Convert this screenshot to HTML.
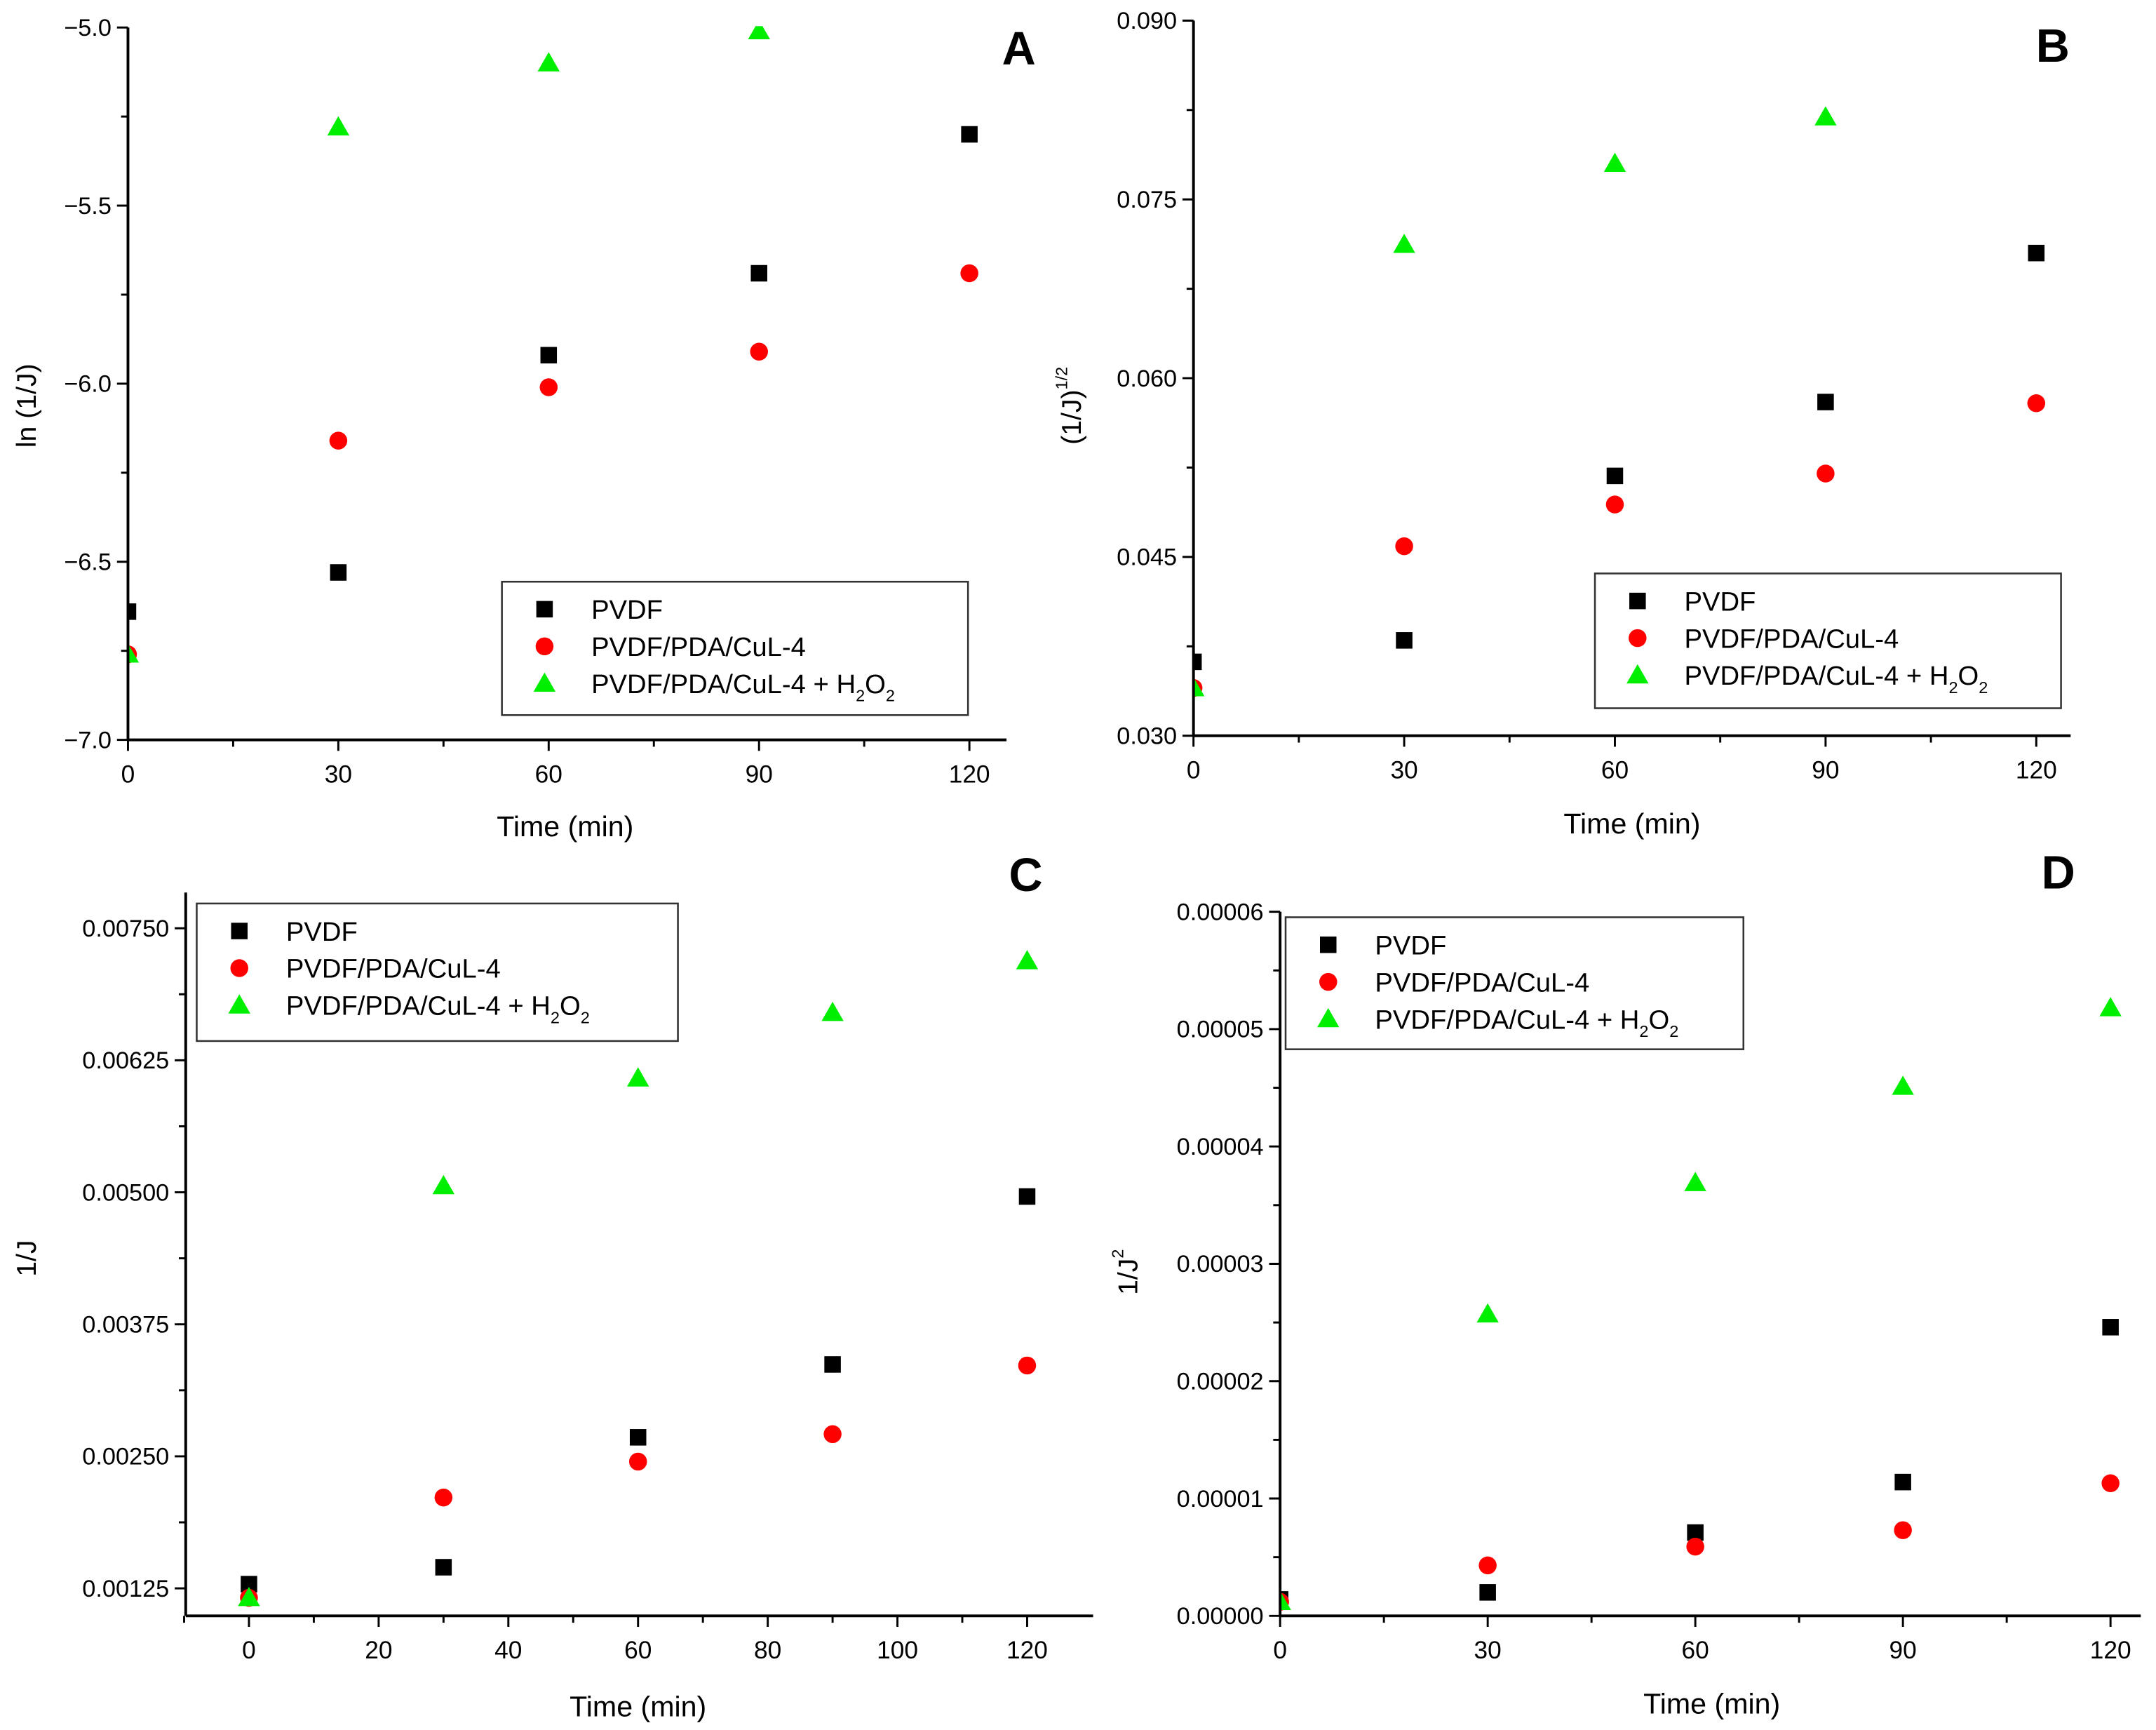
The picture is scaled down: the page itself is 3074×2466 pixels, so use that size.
<!DOCTYPE html>
<html><head><meta charset="utf-8">
<style>
html,body{margin:0;padding:0;background:#fff;}
svg{display:block;font-family:"Liberation Sans",Arial,sans-serif;}
</style></head>
<body>
<svg id="fig" width="3074" height="2466" viewBox="0 0 1568 1258" xmlns="http://www.w3.org/2000/svg"></svg>
<script>
const times = [0, 30, 60, 90, 120];
const seriesNames = ["PVDF", "PVDF/PDA/CuL-4", "PVDF/PDA/CuL-4 + H2O2"];
// Panel A: ln(1/J)
const aPVDF = [-6.64, -6.53, -5.92, -5.69, -5.30];
const aCuL = [-6.76, -6.16, -6.01, -5.91, -5.69];
const aH2O2 = [-6.76, -5.28, -5.10, -5.01, null];
const aTicksY = ["-5.0", "-5.5", "-6.0", "-6.5", "-7.0"];
// Panel B: (1/J)^1/2
const bPVDF = [0.0362, 0.0380, 0.0518, 0.0580, 0.0705];
const bCuL = [0.0340, 0.0459, 0.0494, 0.0520, 0.0579];
const bH2O2 = [0.0340, 0.0712, 0.0780, 0.0819, null];
const bTicksY = ["0.090", "0.075", "0.060", "0.045", "0.030"];
// Panel C: 1/J
const cPVDF = [0.00129, 0.00145, 0.00268, 0.00337, 0.00496];
const cCuL = [0.00116, 0.00211, 0.00245, 0.00271, 0.00336];
const cH2O2 = [0.00116, 0.00506, 0.00608, 0.00670, 0.00719];
const cTicksY = ["0.00750", "0.00625", "0.00500", "0.00375", "0.00250", "0.00125"];
// Panel D: 1/J^2
const dPVDF = [0.0000014, 0.0000020, 0.0000071, 0.0000114, 0.0000246];
const dCuL = [0.0000012, 0.0000043, 0.0000059, 0.0000073, 0.0000113];
const dH2O2 = [0.0000012, 0.0000257, 0.0000369, 0.0000451, 0.0000518];
const dTicksY = ["0.00006", "0.00005", "0.00004", "0.00003", "0.00002", "0.00001", "0.00000"];
const abTicksX = ["0", "30", "60", "90", "120"];
const cTicksX = ["0", "20", "40", "60", "80", "100", "120"];

const NS = "http://www.w3.org/2000/svg";
const svg = document.getElementById("fig");
function mk(tag, attrs, parent){
  const e = document.createElementNS(NS, tag);
  for (const k in attrs) e.setAttribute(k, attrs[k]);
  (parent||svg).appendChild(e);
  return e;
}
function txt(parent, x, y, s, size, anchor, extra){
  const t = mk("text", Object.assign({x:x, y:y, "font-size":size, "text-anchor":anchor||"middle", fill:"#000"}, extra||{}), parent);
  t.textContent = s;
  return t;
}
function marker(g, kind, x, y){
  let e;
  if (kind===0) e = mk("rect",{x:x-6,y:y-6,width:12,height:12,fill:"#000"},g);
  else if (kind===1) e = mk("circle",{cx:x,cy:y,r:6.5,fill:"#ff0000"},g);
  else e = mk("polygon",{points:`${x},${y-8} ${x-8},${y+6} ${x+8},${y+6}`,fill:"#00ee00"},g);
  return e;
}
const mNames = ["marker-pvdf","marker-cul4","marker-cul4-h2o2"];

function panel(p){
  const g = mk("g",{});
  
  
  const X = v => p.x0 + (v - p.xmin)/(p.xmax - p.xmin)*(p.x1 - p.x0);
  const Y = v => p.y0 - (v - p.ymin)/(p.ymax - p.ymin)*(p.y0 - p.y1);
  // data (drawn first, clipped to plot area)
  const clipId = "clip"+p.id;
  const cp = mk("clipPath",{id:clipId},g);
  mk("rect",{x:p.axL,y:p.axT-1,width:p.axR-p.axL+20,height:p.axB-p.axT+1},cp);
  const dg = mk("g",{"clip-path":`url(#${clipId})`},g);
  [0,1,2].forEach(si=>{
    const vals = p.series[si];
    vals.forEach((v,i)=>{
      if (v===null) return;
      const m = marker(dg, si, X(times[i]), Y(v));
      
      
    });
  });
  // axes
  const ax = mk("line",{x1:p.axL,y1:p.axB,x2:p.axR,y2:p.axB,stroke:"#000","stroke-width":2},g);
  
  
  const ay = mk("line",{x1:p.axL,y1:p.axB,x2:p.axL,y2:p.axT,stroke:"#000","stroke-width":2},g);
  
  
  // x ticks
  const xt = p.xticks.map(Number);
  const step = xt[1]-xt[0];
  for (let v = p.xMinorStart; v <= p.xmaxAxis; v += step/2){
    const major = xt.indexOf(v) >= 0;
    mk("line",{x1:X(v),y1:p.axB,x2:X(v),y2:p.axB+(major?8:5),stroke:"#000","stroke-width":1.5},g);
  }
  p.xticks.forEach(s=>{
    const t = txt(g, X(Number(s)), p.axB+31, s, 18);
    
    
  });
  // y ticks
  const yt = p.yticks.map(Number);
  const ystep = Math.abs(yt[0]-yt[1]);
  const ylo = Math.min(...yt), yhi = Math.max(...yt);
  for (let k = -1; k <= yt.length*2; k++){
    const v = ylo + k*ystep/2;
    const yy = Y(v);
    if (yy > p.axB+0.5 || yy < p.axT-0.5) continue;
    const major = k%2===0 && v <= yhi+1e-12;
    mk("line",{x1:p.axL,y1:yy,x2:p.axL-(major?8:5),y2:yy,stroke:"#000","stroke-width":1.5},g);
  }
  p.yticks.forEach(s=>{
    const t = txt(g, p.axL-12, Y(Number(s))+6, s.replace("-","\u2212"), 17.5, "end");
    
    
  });
  // titles
  const xtl = txt(g, p.xtX, p.xtY, "Time (min)", 21);
  
  
  const ytl = mk("text",{x:0,y:0,"font-size":20,"text-anchor":"middle",transform:`translate(${p.ytX},${p.ytY}) rotate(-90)`},g);
  ytl.innerHTML = p.ytitle;
  
  
  const lt = txt(g, p.letX, p.letY, p.id.toUpperCase(), 34, "middle", {"font-weight":"bold"});
  
  
  // legend
  const L = p.leg;
  const lb = mk("rect",{x:L.x,y:L.y,width:L.w,height:L.h,fill:"#fff",stroke:"#333","stroke-width":1.3},g);
  
  
  seriesNames.forEach((n,i)=>{
    const yy = L.y + 20 + i*27;
    const m = marker(g, i, L.x+31, yy);
    
    
    const t = mk("text",{x:L.x+65,y:yy+7,"font-size":19.5},g);
    if (i===2) t.innerHTML = 'PVDF/PDA/CuL-4 + H<tspan font-size="12" dy="6">2</tspan><tspan dy="-6">O</tspan><tspan font-size="12" dy="6">2</tspan>';
    else t.textContent = n;
    
    
  });
}

panel({id:"a", x0:93,x1:705,xmin:0,xmax:120, y0:538,y1:20,ymin:-7,ymax:-5,
  axL:93,axR:732,axT:20,axB:538, xMinorStart:0, xmaxAxis:120, xticks:abTicksX, yticks:aTicksY,
  series:[aPVDF,aCuL,aH2O2], xtX:411,xtY:608, ytX:26,ytY:295, ytitle:"ln (1/J)", letX:741,letY:47,
  leg:{x:365,y:423,w:339,h:97}});
panel({id:"b", x0:868,x1:1481,xmin:0,xmax:120, y0:535,y1:15,ymin:0.030,ymax:0.090,
  axL:868,axR:1506,axT:15,axB:535, xMinorStart:0, xmaxAxis:120, xticks:abTicksX, yticks:bTicksY,
  series:[bPVDF,bCuL,bH2O2], xtX:1187,xtY:606, ytX:786,ytY:295,
  ytitle:'(1/J)<tspan font-size="12" dy="-10">1/2</tspan>', letX:1493,letY:45,
  leg:{x:1160,y:417,w:339,h:98}});
panel({id:"c", x0:181,x1:747,xmin:0,xmax:120, y0:1155,y1:675,ymin:0.00125,ymax:0.0075,
  axL:135,axR:795,axT:649,axB:1175, xMinorStart:-10, xmaxAxis:125, xticks:cTicksX, yticks:cTicksY,
  series:[cPVDF,cCuL,cH2O2], xtX:464,xtY:1248, ytX:26,ytY:915, ytitle:"1/J", letX:746,letY:648,
  leg:{x:143,y:657,w:350,h:100}});
panel({id:"d", x0:931,x1:1535,xmin:0,xmax:120, y0:1175,y1:663,ymin:0,ymax:0.00006,
  axL:931,axR:1557,axT:663,axB:1175, xMinorStart:0, xmaxAxis:120, xticks:abTicksX, yticks:dTicksY,
  series:[dPVDF,dCuL,dH2O2], xtX:1245,xtY:1246, ytX:827,ytY:925,
  ytitle:'1/J<tspan font-size="12" dy="-10">2</tspan>', letX:1497,letY:646,
  leg:{x:935,y:667,w:333,h:96}});
</script>
</body></html>
